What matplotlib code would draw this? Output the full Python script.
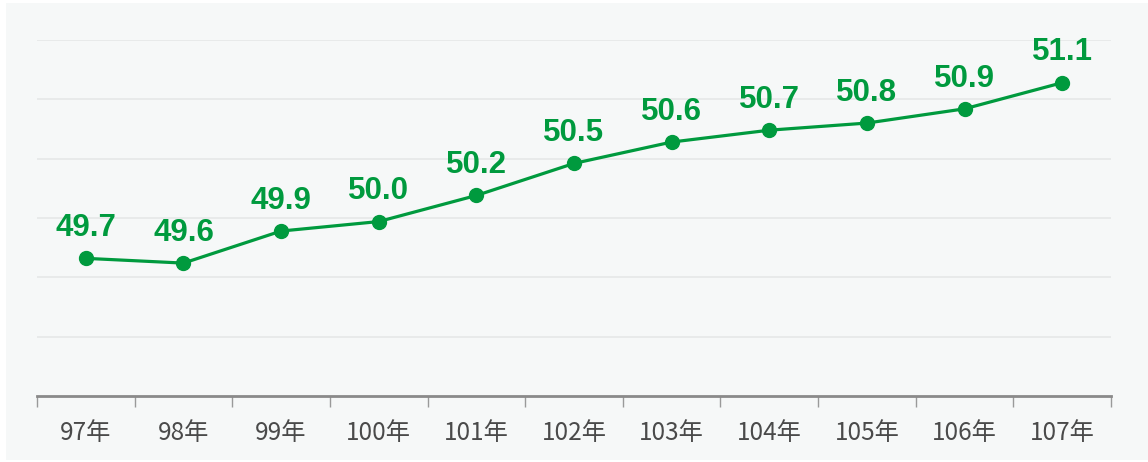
import matplotlib.pyplot as plt
from matplotlib.patches import Rectangle

years = ["97年", "98年", "99年", "100年", "101年", "102年",
         "103年", "104年", "105年", "106年", "107年"]
values = [49.66, 49.62, 49.89, 49.97, 50.19, 50.46,
          50.64, 50.74, 50.80, 50.92, 51.14]
labels = ["49.7", "49.6", "49.9", "50.0", "50.2", "50.5",
          "50.6", "50.7", "50.8", "50.9", "51.1"]

green = "#009a3e"

fig = plt.figure(figsize=(11.48, 4.62), dpi=100)
fig.patch.set_facecolor("white")
# light grey card behind the chart, thin white margin around it
fig.add_artist(Rectangle((6 / 1148, 2 / 462), 1, 457 / 462,
                         transform=fig.transFigure, facecolor="#f6f8f8",
                         edgecolor="none", zorder=-10))

ax = fig.add_axes([37 / 1148, 66 / 462, 1074 / 1148, 356 / 462])
ax.set_facecolor("none")

x = list(range(len(years)))
ax.plot(x, values, color=green, lw=2.3, marker="o", markersize=10,
        solid_capstyle="round", zorder=3, clip_on=False)

for xi, v, lab in zip(x, values, labels):
    ax.annotate(lab, (xi, v), xytext=(0, 16), textcoords="offset points",
                ha="center", va="baseline", fontsize=22.5, fontweight="bold",
                color=green, family=["Liberation Sans", "DejaVu Sans"],
                annotation_clip=False)

ax.set_xlim(-0.5, len(years) - 0.5)
ax.set_ylim(48.5, 51.5)

# gridlines every 0.5
for g in [49.0, 49.5, 50.0, 50.5, 51.0, 51.5]:
    ax.axhline(g, color="#e6e8e8", lw=1.2, zorder=1)

for s in ["top", "right", "left"]:
    ax.spines[s].set_visible(False)
ax.spines["bottom"].set_color("#8a8a8a")
ax.spines["bottom"].set_linewidth(2)
ax.set_yticks([])

# tick marks on the category boundaries, labels in the middle
ax.set_xticks([i - 0.5 for i in range(len(years) + 1)])
ax.set_xticklabels([])
ax.tick_params(axis="x", which="major", length=8, width=1, color="#9a9a9a")
ax.set_xticks(x, minor=True)
ax.set_xticklabels(years, minor=True, fontsize=17.5, color="#4a4a4a",
                   fontweight="light",
                   family=["Noto Sans CJK TC", "DejaVu Sans"])
ax.tick_params(axis="x", which="minor", length=0, pad=17)

fig.savefig("out.png", dpi=100, facecolor=fig.get_facecolor())
